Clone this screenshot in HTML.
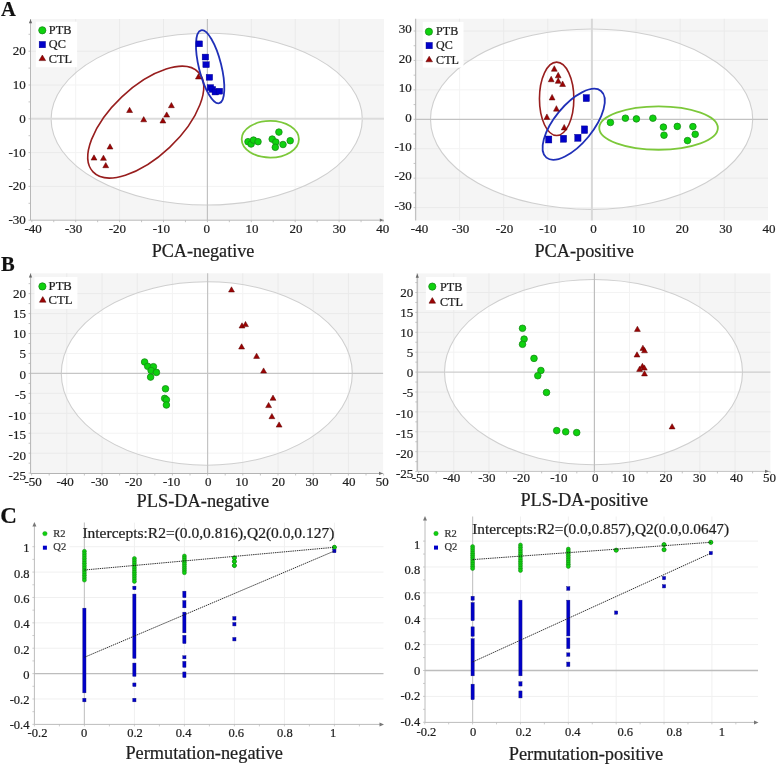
<!DOCTYPE html>
<html><head><meta charset="utf-8"><title>figure</title>
<style>html,body{margin:0;padding:0;background:#fff;}svg{display:block;will-change:transform;}</style>
</head><body>
<svg width="777" height="765" viewBox="0 0 777 765" font-family='"Liberation Serif", serif' fill="#1e1e1e">
<rect x="0" y="0" width="777" height="765" fill="#ffffff"/>
<rect x="30.5" y="19" width="353.5" height="201.2" fill="#f5f5f5"/>
<line x1="75.7" y1="19" x2="75.7" y2="220.2" stroke="#eaeaea" stroke-width="1"/>
<line x1="119.6" y1="19" x2="119.6" y2="220.2" stroke="#eaeaea" stroke-width="1"/>
<line x1="163.5" y1="19" x2="163.5" y2="220.2" stroke="#eaeaea" stroke-width="1"/>
<line x1="251.3" y1="19" x2="251.3" y2="220.2" stroke="#eaeaea" stroke-width="1"/>
<line x1="295.2" y1="19" x2="295.2" y2="220.2" stroke="#eaeaea" stroke-width="1"/>
<line x1="339.1" y1="19" x2="339.1" y2="220.2" stroke="#eaeaea" stroke-width="1"/>
<line x1="30.5" y1="186.4" x2="384" y2="186.4" stroke="#eaeaea" stroke-width="1"/>
<line x1="30.5" y1="152.6" x2="384" y2="152.6" stroke="#eaeaea" stroke-width="1"/>
<line x1="30.5" y1="85" x2="384" y2="85" stroke="#eaeaea" stroke-width="1"/>
<line x1="30.5" y1="51.2" x2="384" y2="51.2" stroke="#eaeaea" stroke-width="1"/>
<ellipse cx="206.7" cy="119.1" rx="155.6" ry="85.9" fill="#ffffff" stroke="none"/>
<clipPath id="cpal"><ellipse cx="206.7" cy="119.1" rx="155.6" ry="85.9"/></clipPath>
<g clip-path="url(#cpal)">
<line x1="75.7" y1="19" x2="75.7" y2="220.2" stroke="#f3f3f3" stroke-width="1"/>
<line x1="119.6" y1="19" x2="119.6" y2="220.2" stroke="#f3f3f3" stroke-width="1"/>
<line x1="163.5" y1="19" x2="163.5" y2="220.2" stroke="#f3f3f3" stroke-width="1"/>
<line x1="251.3" y1="19" x2="251.3" y2="220.2" stroke="#f3f3f3" stroke-width="1"/>
<line x1="295.2" y1="19" x2="295.2" y2="220.2" stroke="#f3f3f3" stroke-width="1"/>
<line x1="339.1" y1="19" x2="339.1" y2="220.2" stroke="#f3f3f3" stroke-width="1"/>
<line x1="30.5" y1="186.4" x2="384" y2="186.4" stroke="#f3f3f3" stroke-width="1"/>
<line x1="30.5" y1="152.6" x2="384" y2="152.6" stroke="#f3f3f3" stroke-width="1"/>
<line x1="30.5" y1="85" x2="384" y2="85" stroke="#f3f3f3" stroke-width="1"/>
<line x1="30.5" y1="51.2" x2="384" y2="51.2" stroke="#f3f3f3" stroke-width="1"/>
</g>
<ellipse cx="206.7" cy="119.1" rx="155.6" ry="85.9" fill="none" stroke="#cfcfcf" stroke-width="1.1"/>
<line x1="30.5" y1="118.8" x2="384" y2="118.8" stroke="#dcdcdc" stroke-width="2"/>
<line x1="207.4" y1="19" x2="207.4" y2="220.2" stroke="#c2c2c2" stroke-width="1.2"/>
<line x1="30.5" y1="19" x2="30.5" y2="220.2" stroke="#b8b8b8" stroke-width="1"/>
<line x1="30.5" y1="220.2" x2="384" y2="220.2" stroke="#b8b8b8" stroke-width="1"/>
<path d="M28.9 23.2L32.1 23.2L30.5 19.2Z" fill="#666"/>
<path d="M379.8 218.6L379.8 221.8L383.8 220.2Z" fill="#777"/>
<line x1="28.5" y1="220.2" x2="30.5" y2="220.2" stroke="#b8b8b8" stroke-width="0.8"/>
<line x1="28.5" y1="203.3" x2="30.5" y2="203.3" stroke="#b8b8b8" stroke-width="0.8"/>
<line x1="28.5" y1="186.4" x2="30.5" y2="186.4" stroke="#b8b8b8" stroke-width="0.8"/>
<line x1="28.5" y1="169.5" x2="30.5" y2="169.5" stroke="#b8b8b8" stroke-width="0.8"/>
<line x1="28.5" y1="152.6" x2="30.5" y2="152.6" stroke="#b8b8b8" stroke-width="0.8"/>
<line x1="28.5" y1="135.7" x2="30.5" y2="135.7" stroke="#b8b8b8" stroke-width="0.8"/>
<line x1="28.5" y1="118.8" x2="30.5" y2="118.8" stroke="#b8b8b8" stroke-width="0.8"/>
<line x1="28.5" y1="101.9" x2="30.5" y2="101.9" stroke="#b8b8b8" stroke-width="0.8"/>
<line x1="28.5" y1="85" x2="30.5" y2="85" stroke="#b8b8b8" stroke-width="0.8"/>
<line x1="28.5" y1="68.1" x2="30.5" y2="68.1" stroke="#b8b8b8" stroke-width="0.8"/>
<line x1="28.5" y1="51.2" x2="30.5" y2="51.2" stroke="#b8b8b8" stroke-width="0.8"/>
<line x1="28.5" y1="34.3" x2="30.5" y2="34.3" stroke="#b8b8b8" stroke-width="0.8"/>
<line x1="31.8" y1="220.2" x2="31.8" y2="222.2" stroke="#b8b8b8" stroke-width="0.8"/>
<line x1="53.75" y1="220.2" x2="53.75" y2="222.2" stroke="#b8b8b8" stroke-width="0.8"/>
<line x1="75.7" y1="220.2" x2="75.7" y2="222.2" stroke="#b8b8b8" stroke-width="0.8"/>
<line x1="97.65" y1="220.2" x2="97.65" y2="222.2" stroke="#b8b8b8" stroke-width="0.8"/>
<line x1="119.6" y1="220.2" x2="119.6" y2="222.2" stroke="#b8b8b8" stroke-width="0.8"/>
<line x1="141.55" y1="220.2" x2="141.55" y2="222.2" stroke="#b8b8b8" stroke-width="0.8"/>
<line x1="163.5" y1="220.2" x2="163.5" y2="222.2" stroke="#b8b8b8" stroke-width="0.8"/>
<line x1="185.45" y1="220.2" x2="185.45" y2="222.2" stroke="#b8b8b8" stroke-width="0.8"/>
<line x1="207.4" y1="220.2" x2="207.4" y2="222.2" stroke="#b8b8b8" stroke-width="0.8"/>
<line x1="229.35" y1="220.2" x2="229.35" y2="222.2" stroke="#b8b8b8" stroke-width="0.8"/>
<line x1="251.3" y1="220.2" x2="251.3" y2="222.2" stroke="#b8b8b8" stroke-width="0.8"/>
<line x1="273.25" y1="220.2" x2="273.25" y2="222.2" stroke="#b8b8b8" stroke-width="0.8"/>
<line x1="295.2" y1="220.2" x2="295.2" y2="222.2" stroke="#b8b8b8" stroke-width="0.8"/>
<line x1="317.15" y1="220.2" x2="317.15" y2="222.2" stroke="#b8b8b8" stroke-width="0.8"/>
<line x1="339.1" y1="220.2" x2="339.1" y2="222.2" stroke="#b8b8b8" stroke-width="0.8"/>
<line x1="361.05" y1="220.2" x2="361.05" y2="222.2" stroke="#b8b8b8" stroke-width="0.8"/>
<line x1="383" y1="220.2" x2="383" y2="222.2" stroke="#b8b8b8" stroke-width="0.8"/>
<rect x="35.9" y="21.7" width="41.2" height="45.5" fill="#ffffff"/>
<circle cx="42.3" cy="30.3" r="3.6" fill="#0ed20e" stroke="#168c16" stroke-width="0.8"/>
<text x="48.8" y="33.8" font-size="11.5" text-anchor="start" stroke="#1e1e1e" stroke-width="0.22" textLength="22.57" lengthAdjust="spacingAndGlyphs">PTB</text>
<rect x="39.15" y="41.4" width="6.4" height="6.4" fill="#0000c8" stroke="#00008a" stroke-width="0.4"/>
<text x="48.8" y="48.3" font-size="11.5" text-anchor="start" stroke="#1e1e1e" stroke-width="0.22" textLength="17.09" lengthAdjust="spacingAndGlyphs">QC</text>
<path d="M39.05 60.6L45.65 60.6L42.35 55Z" fill="#9c0404" stroke="#5a0000" stroke-width="0.5" stroke-linejoin="round"/>
<text x="48.8" y="63.2" font-size="11.5" text-anchor="start" stroke="#1e1e1e" stroke-width="0.22" textLength="23.24" lengthAdjust="spacingAndGlyphs">CTL</text>
<text x="25.8" y="55.1" font-size="13" text-anchor="end" stroke="#1e1e1e" stroke-width="0.22">20</text>
<text x="25.8" y="88.9" font-size="13" text-anchor="end" stroke="#1e1e1e" stroke-width="0.22">10</text>
<text x="25.8" y="122.7" font-size="13" text-anchor="end" stroke="#1e1e1e" stroke-width="0.22">0</text>
<text x="25.8" y="156.5" font-size="13" text-anchor="end" stroke="#1e1e1e" stroke-width="0.22">-10</text>
<text x="25.8" y="190.3" font-size="13" text-anchor="end" stroke="#1e1e1e" stroke-width="0.22">-20</text>
<text x="25.8" y="224.1" font-size="13" text-anchor="end" stroke="#1e1e1e" stroke-width="0.22">-30</text>
<text x="33.1" y="232.7" font-size="13" text-anchor="middle" stroke="#1e1e1e" stroke-width="0.22">-40</text>
<text x="73.7" y="232.7" font-size="13" text-anchor="middle" stroke="#1e1e1e" stroke-width="0.22">-30</text>
<text x="117.4" y="232.7" font-size="13" text-anchor="middle" stroke="#1e1e1e" stroke-width="0.22">-20</text>
<text x="161.3" y="232.7" font-size="13" text-anchor="middle" stroke="#1e1e1e" stroke-width="0.22">-10</text>
<text x="206.8" y="232.7" font-size="13" text-anchor="middle" stroke="#1e1e1e" stroke-width="0.22">0</text>
<text x="252.1" y="232.7" font-size="13" text-anchor="middle" stroke="#1e1e1e" stroke-width="0.22">10</text>
<text x="296" y="232.7" font-size="13" text-anchor="middle" stroke="#1e1e1e" stroke-width="0.22">20</text>
<text x="339.2" y="232.7" font-size="13" text-anchor="middle" stroke="#1e1e1e" stroke-width="0.22">30</text>
<text x="382.7" y="232.7" font-size="13" text-anchor="middle" stroke="#1e1e1e" stroke-width="0.22">40</text>
<text x="203" y="256.5" font-size="18" text-anchor="middle" stroke="#1e1e1e" stroke-width="0.22" textLength="102.7" lengthAdjust="spacingAndGlyphs">PCA-negative</text>
<ellipse cx="145.75" cy="122.1" rx="72.5" ry="34.8" transform="rotate(-43.35 145.75 122.1)" fill="none" stroke="#981e1e" stroke-width="1.6"/>
<ellipse cx="210.15" cy="66.75" rx="37.6" ry="11.2" transform="rotate(76 210.15 66.75)" fill="none" stroke="#2030b8" stroke-width="1.8"/>
<ellipse cx="270.3" cy="139.25" rx="28.6" ry="18.3" transform="rotate(0 270.3 139.25)" fill="none" stroke="#7cc83a" stroke-width="1.8"/>
<path d="M195.45 79L201.35 79L198.4 73.8Z" fill="#9c0404" stroke="#5a0000" stroke-width="0.5" stroke-linejoin="round"/>
<path d="M168.45 107.7L174.35 107.7L171.4 102.5Z" fill="#9c0404" stroke="#5a0000" stroke-width="0.5" stroke-linejoin="round"/>
<path d="M126.65 112.5L132.55 112.5L129.6 107.3Z" fill="#9c0404" stroke="#5a0000" stroke-width="0.5" stroke-linejoin="round"/>
<path d="M163.75 117.1L169.65 117.1L166.7 111.9Z" fill="#9c0404" stroke="#5a0000" stroke-width="0.5" stroke-linejoin="round"/>
<path d="M140.75 121.8L146.65 121.8L143.7 116.6Z" fill="#9c0404" stroke="#5a0000" stroke-width="0.5" stroke-linejoin="round"/>
<path d="M159.95 123L165.85 123L162.9 117.8Z" fill="#9c0404" stroke="#5a0000" stroke-width="0.5" stroke-linejoin="round"/>
<path d="M107.05 149L112.95 149L110 143.8Z" fill="#9c0404" stroke="#5a0000" stroke-width="0.5" stroke-linejoin="round"/>
<path d="M91.05 160.05L96.95 160.05L94 154.85Z" fill="#9c0404" stroke="#5a0000" stroke-width="0.5" stroke-linejoin="round"/>
<path d="M100.5 160.35L106.4 160.35L103.45 155.15Z" fill="#9c0404" stroke="#5a0000" stroke-width="0.5" stroke-linejoin="round"/>
<path d="M102.8 167.7L108.7 167.7L105.75 162.5Z" fill="#9c0404" stroke="#5a0000" stroke-width="0.5" stroke-linejoin="round"/>
<rect x="196" y="40.9" width="6.5" height="5.9" fill="#0000c8" stroke="#00008a" stroke-width="0.4"/>
<rect x="202.15" y="54.1" width="6.5" height="5.9" fill="#0000c8" stroke="#00008a" stroke-width="0.4"/>
<rect x="202.85" y="61.75" width="6.5" height="5.9" fill="#0000c8" stroke="#00008a" stroke-width="0.4"/>
<rect x="206.15" y="74.35" width="6.5" height="5.9" fill="#0000c8" stroke="#00008a" stroke-width="0.4"/>
<rect x="207.15" y="84.65" width="6.5" height="5.9" fill="#0000c8" stroke="#00008a" stroke-width="0.4"/>
<rect x="209.15" y="86.45" width="6.5" height="5.9" fill="#0000c8" stroke="#00008a" stroke-width="0.4"/>
<rect x="212.05" y="89.05" width="6.5" height="5.9" fill="#0000c8" stroke="#00008a" stroke-width="0.4"/>
<rect x="216.15" y="88.25" width="6.5" height="5.9" fill="#0000c8" stroke="#00008a" stroke-width="0.4"/>
<circle cx="248" cy="141.7" r="3.3" fill="#0ed20e" stroke="#168c16" stroke-width="0.8"/>
<circle cx="251.1" cy="144" r="3.3" fill="#0ed20e" stroke="#168c16" stroke-width="0.8"/>
<circle cx="253.5" cy="140.1" r="3.3" fill="#0ed20e" stroke="#168c16" stroke-width="0.8"/>
<circle cx="258" cy="141.7" r="3.3" fill="#0ed20e" stroke="#168c16" stroke-width="0.8"/>
<circle cx="278.9" cy="132.1" r="3.3" fill="#0ed20e" stroke="#168c16" stroke-width="0.8"/>
<circle cx="272.2" cy="139.1" r="3.3" fill="#0ed20e" stroke="#168c16" stroke-width="0.8"/>
<circle cx="275.8" cy="142.1" r="3.3" fill="#0ed20e" stroke="#168c16" stroke-width="0.8"/>
<circle cx="275.3" cy="147.3" r="3.3" fill="#0ed20e" stroke="#168c16" stroke-width="0.8"/>
<circle cx="283" cy="144.5" r="3.3" fill="#0ed20e" stroke="#168c16" stroke-width="0.8"/>
<circle cx="290.2" cy="140.7" r="3.3" fill="#0ed20e" stroke="#168c16" stroke-width="0.8"/>
<rect x="415.6" y="18.75" width="352.4" height="201.75" fill="#f5f5f5"/>
<line x1="459.6" y1="18.75" x2="459.6" y2="220.5" stroke="#eaeaea" stroke-width="1"/>
<line x1="503.7" y1="18.75" x2="503.7" y2="220.5" stroke="#eaeaea" stroke-width="1"/>
<line x1="547.8" y1="18.75" x2="547.8" y2="220.5" stroke="#eaeaea" stroke-width="1"/>
<line x1="636" y1="18.75" x2="636" y2="220.5" stroke="#eaeaea" stroke-width="1"/>
<line x1="680.1" y1="18.75" x2="680.1" y2="220.5" stroke="#eaeaea" stroke-width="1"/>
<line x1="724.2" y1="18.75" x2="724.2" y2="220.5" stroke="#eaeaea" stroke-width="1"/>
<line x1="415.6" y1="207.59" x2="768" y2="207.59" stroke="#eaeaea" stroke-width="1"/>
<line x1="415.6" y1="178.16" x2="768" y2="178.16" stroke="#eaeaea" stroke-width="1"/>
<line x1="415.6" y1="148.73" x2="768" y2="148.73" stroke="#eaeaea" stroke-width="1"/>
<line x1="415.6" y1="89.87" x2="768" y2="89.87" stroke="#eaeaea" stroke-width="1"/>
<line x1="415.6" y1="60.44" x2="768" y2="60.44" stroke="#eaeaea" stroke-width="1"/>
<line x1="415.6" y1="31.01" x2="768" y2="31.01" stroke="#eaeaea" stroke-width="1"/>
<ellipse cx="591.6" cy="119.2" rx="161.1" ry="90.2" fill="#ffffff" stroke="none"/>
<clipPath id="cpar"><ellipse cx="591.6" cy="119.2" rx="161.1" ry="90.2"/></clipPath>
<g clip-path="url(#cpar)">
<line x1="459.6" y1="18.75" x2="459.6" y2="220.5" stroke="#f3f3f3" stroke-width="1"/>
<line x1="503.7" y1="18.75" x2="503.7" y2="220.5" stroke="#f3f3f3" stroke-width="1"/>
<line x1="547.8" y1="18.75" x2="547.8" y2="220.5" stroke="#f3f3f3" stroke-width="1"/>
<line x1="636" y1="18.75" x2="636" y2="220.5" stroke="#f3f3f3" stroke-width="1"/>
<line x1="680.1" y1="18.75" x2="680.1" y2="220.5" stroke="#f3f3f3" stroke-width="1"/>
<line x1="724.2" y1="18.75" x2="724.2" y2="220.5" stroke="#f3f3f3" stroke-width="1"/>
<line x1="415.6" y1="207.59" x2="768" y2="207.59" stroke="#f3f3f3" stroke-width="1"/>
<line x1="415.6" y1="178.16" x2="768" y2="178.16" stroke="#f3f3f3" stroke-width="1"/>
<line x1="415.6" y1="148.73" x2="768" y2="148.73" stroke="#f3f3f3" stroke-width="1"/>
<line x1="415.6" y1="89.87" x2="768" y2="89.87" stroke="#f3f3f3" stroke-width="1"/>
<line x1="415.6" y1="60.44" x2="768" y2="60.44" stroke="#f3f3f3" stroke-width="1"/>
<line x1="415.6" y1="31.01" x2="768" y2="31.01" stroke="#f3f3f3" stroke-width="1"/>
</g>
<ellipse cx="591.6" cy="119.2" rx="161.1" ry="90.2" fill="none" stroke="#cfcfcf" stroke-width="1.1"/>
<line x1="415.6" y1="119.3" x2="768" y2="119.3" stroke="#c2c2c2" stroke-width="1.2"/>
<line x1="591.9" y1="18.75" x2="591.9" y2="220.5" stroke="#d8d8d8" stroke-width="2"/>
<line x1="415.6" y1="18.75" x2="415.6" y2="220.5" stroke="#c2c2c2" stroke-width="1.3"/>
<line x1="413.6" y1="207.59" x2="415.6" y2="207.59" stroke="#b8b8b8" stroke-width="0.8"/>
<line x1="413.6" y1="192.88" x2="415.6" y2="192.88" stroke="#b8b8b8" stroke-width="0.8"/>
<line x1="413.6" y1="178.16" x2="415.6" y2="178.16" stroke="#b8b8b8" stroke-width="0.8"/>
<line x1="413.6" y1="163.44" x2="415.6" y2="163.44" stroke="#b8b8b8" stroke-width="0.8"/>
<line x1="413.6" y1="148.73" x2="415.6" y2="148.73" stroke="#b8b8b8" stroke-width="0.8"/>
<line x1="413.6" y1="134.01" x2="415.6" y2="134.01" stroke="#b8b8b8" stroke-width="0.8"/>
<line x1="413.6" y1="119.3" x2="415.6" y2="119.3" stroke="#b8b8b8" stroke-width="0.8"/>
<line x1="413.6" y1="104.58" x2="415.6" y2="104.58" stroke="#b8b8b8" stroke-width="0.8"/>
<line x1="413.6" y1="89.87" x2="415.6" y2="89.87" stroke="#b8b8b8" stroke-width="0.8"/>
<line x1="413.6" y1="75.16" x2="415.6" y2="75.16" stroke="#b8b8b8" stroke-width="0.8"/>
<line x1="413.6" y1="60.44" x2="415.6" y2="60.44" stroke="#b8b8b8" stroke-width="0.8"/>
<line x1="413.6" y1="45.72" x2="415.6" y2="45.72" stroke="#b8b8b8" stroke-width="0.8"/>
<line x1="413.6" y1="31.01" x2="415.6" y2="31.01" stroke="#b8b8b8" stroke-width="0.8"/>
<rect x="422.8" y="21.9" width="40.7" height="45.7" fill="#ffffff"/>
<circle cx="428.9" cy="31.7" r="3.6" fill="#0ed20e" stroke="#168c16" stroke-width="0.8"/>
<text x="436.1" y="34.7" font-size="11.5" text-anchor="start" stroke="#1e1e1e" stroke-width="0.22" textLength="22.15" lengthAdjust="spacingAndGlyphs">PTB</text>
<rect x="426" y="42.4" width="6.4" height="6.4" fill="#0000c8" stroke="#00008a" stroke-width="0.4"/>
<text x="436.1" y="48.9" font-size="11.5" text-anchor="start" stroke="#1e1e1e" stroke-width="0.22" textLength="16.77" lengthAdjust="spacingAndGlyphs">QC</text>
<path d="M425.9 61.8L432.5 61.8L429.2 56.2Z" fill="#9c0404" stroke="#5a0000" stroke-width="0.5" stroke-linejoin="round"/>
<text x="436.1" y="64.4" font-size="11.5" text-anchor="start" stroke="#1e1e1e" stroke-width="0.22" textLength="22.81" lengthAdjust="spacingAndGlyphs">CTL</text>
<text x="411.8" y="33.31" font-size="13" text-anchor="end" stroke="#1e1e1e" stroke-width="0.22">30</text>
<text x="411.8" y="62.74" font-size="13" text-anchor="end" stroke="#1e1e1e" stroke-width="0.22">20</text>
<text x="411.8" y="92.17" font-size="13" text-anchor="end" stroke="#1e1e1e" stroke-width="0.22">10</text>
<text x="411.8" y="121.6" font-size="13" text-anchor="end" stroke="#1e1e1e" stroke-width="0.22">0</text>
<text x="411.8" y="151.03" font-size="13" text-anchor="end" stroke="#1e1e1e" stroke-width="0.22">-10</text>
<text x="411.8" y="180.46" font-size="13" text-anchor="end" stroke="#1e1e1e" stroke-width="0.22">-20</text>
<text x="411.8" y="209.89" font-size="13" text-anchor="end" stroke="#1e1e1e" stroke-width="0.22">-30</text>
<text x="419.5" y="232.5" font-size="13" text-anchor="middle" stroke="#1e1e1e" stroke-width="0.22">-40</text>
<text x="460.7" y="232.5" font-size="13" text-anchor="middle" stroke="#1e1e1e" stroke-width="0.22">-30</text>
<text x="504.5" y="232.5" font-size="13" text-anchor="middle" stroke="#1e1e1e" stroke-width="0.22">-20</text>
<text x="547.8" y="232.5" font-size="13" text-anchor="middle" stroke="#1e1e1e" stroke-width="0.22">-10</text>
<text x="593.4" y="232.5" font-size="13" text-anchor="middle" stroke="#1e1e1e" stroke-width="0.22">0</text>
<text x="638.4" y="232.5" font-size="13" text-anchor="middle" stroke="#1e1e1e" stroke-width="0.22">10</text>
<text x="682.3" y="232.5" font-size="13" text-anchor="middle" stroke="#1e1e1e" stroke-width="0.22">20</text>
<text x="725.8" y="232.5" font-size="13" text-anchor="middle" stroke="#1e1e1e" stroke-width="0.22">30</text>
<text x="769.1" y="232.5" font-size="13" text-anchor="middle" stroke="#1e1e1e" stroke-width="0.22">40</text>
<text x="584.2" y="256.9" font-size="18" text-anchor="middle" stroke="#1e1e1e" stroke-width="0.22" textLength="99.5" lengthAdjust="spacingAndGlyphs">PCA-positive</text>
<ellipse cx="556.65" cy="98.8" rx="17.2" ry="36.7" transform="rotate(0 556.65 98.8)" fill="none" stroke="#981e1e" stroke-width="1.6"/>
<ellipse cx="573.7" cy="124.3" rx="43.1" ry="19.3" transform="rotate(-50.7 573.7 124.3)" fill="none" stroke="#2030b8" stroke-width="1.8"/>
<ellipse cx="658.55" cy="128.05" rx="59.3" ry="21.7" transform="rotate(0 658.55 128.05)" fill="none" stroke="#7cc83a" stroke-width="1.8"/>
<path d="M551.4 71.25L557.2 71.25L554.3 65.75Z" fill="#9c0404" stroke="#5a0000" stroke-width="0.5" stroke-linejoin="round"/>
<path d="M555.3 77.85L561.1 77.85L558.2 72.35Z" fill="#9c0404" stroke="#5a0000" stroke-width="0.5" stroke-linejoin="round"/>
<path d="M548.3 81.75L554.1 81.75L551.2 76.25Z" fill="#9c0404" stroke="#5a0000" stroke-width="0.5" stroke-linejoin="round"/>
<path d="M555.3 83.35L561.1 83.35L558.2 77.85Z" fill="#9c0404" stroke="#5a0000" stroke-width="0.5" stroke-linejoin="round"/>
<path d="M559.7 86.45L565.5 86.45L562.6 80.95Z" fill="#9c0404" stroke="#5a0000" stroke-width="0.5" stroke-linejoin="round"/>
<path d="M549.2 99.95L555 99.95L552.1 94.45Z" fill="#9c0404" stroke="#5a0000" stroke-width="0.5" stroke-linejoin="round"/>
<path d="M553.5 111.15L559.3 111.15L556.4 105.65Z" fill="#9c0404" stroke="#5a0000" stroke-width="0.5" stroke-linejoin="round"/>
<path d="M544 119.45L549.8 119.45L546.9 113.95Z" fill="#9c0404" stroke="#5a0000" stroke-width="0.5" stroke-linejoin="round"/>
<path d="M561.3 129.95L567.1 129.95L564.2 124.45Z" fill="#9c0404" stroke="#5a0000" stroke-width="0.5" stroke-linejoin="round"/>
<rect x="583.15" y="94.6" width="6.3" height="7" fill="#0000c8" stroke="#00008a" stroke-width="0.4"/>
<rect x="581.35" y="125.9" width="6.3" height="7.6" fill="#0000c8" stroke="#00008a" stroke-width="0.4"/>
<rect x="574.75" y="134.3" width="6.3" height="7" fill="#0000c8" stroke="#00008a" stroke-width="0.4"/>
<rect x="560.35" y="135.25" width="6.3" height="7" fill="#0000c8" stroke="#00008a" stroke-width="0.4"/>
<rect x="545.55" y="136" width="6.3" height="7" fill="#0000c8" stroke="#00008a" stroke-width="0.4"/>
<circle cx="610.4" cy="122.5" r="3.3" fill="#0ed20e" stroke="#168c16" stroke-width="0.8"/>
<circle cx="625.4" cy="118.2" r="3.3" fill="#0ed20e" stroke="#168c16" stroke-width="0.8"/>
<circle cx="636.4" cy="118.9" r="3.3" fill="#0ed20e" stroke="#168c16" stroke-width="0.8"/>
<circle cx="652.9" cy="118.2" r="3.3" fill="#0ed20e" stroke="#168c16" stroke-width="0.8"/>
<circle cx="663.4" cy="127.1" r="3.3" fill="#0ed20e" stroke="#168c16" stroke-width="0.8"/>
<circle cx="664" cy="135.2" r="3.3" fill="#0ed20e" stroke="#168c16" stroke-width="0.8"/>
<circle cx="677.3" cy="126.4" r="3.3" fill="#0ed20e" stroke="#168c16" stroke-width="0.8"/>
<circle cx="692.9" cy="126.6" r="3.3" fill="#0ed20e" stroke="#168c16" stroke-width="0.8"/>
<circle cx="695.2" cy="134.3" r="3.3" fill="#0ed20e" stroke="#168c16" stroke-width="0.8"/>
<circle cx="687.5" cy="140.6" r="3.3" fill="#0ed20e" stroke="#168c16" stroke-width="0.8"/>
<rect x="30.6" y="273.3" width="352.5" height="200.2" fill="#f5f5f5"/>
<line x1="66.8" y1="273.3" x2="66.8" y2="473.5" stroke="#eaeaea" stroke-width="1"/>
<line x1="102" y1="273.3" x2="102" y2="473.5" stroke="#eaeaea" stroke-width="1"/>
<line x1="137.2" y1="273.3" x2="137.2" y2="473.5" stroke="#eaeaea" stroke-width="1"/>
<line x1="172.4" y1="273.3" x2="172.4" y2="473.5" stroke="#eaeaea" stroke-width="1"/>
<line x1="242.8" y1="273.3" x2="242.8" y2="473.5" stroke="#eaeaea" stroke-width="1"/>
<line x1="278" y1="273.3" x2="278" y2="473.5" stroke="#eaeaea" stroke-width="1"/>
<line x1="313.2" y1="273.3" x2="313.2" y2="473.5" stroke="#eaeaea" stroke-width="1"/>
<line x1="348.4" y1="273.3" x2="348.4" y2="473.5" stroke="#eaeaea" stroke-width="1"/>
<line x1="30.6" y1="453.2" x2="383.1" y2="453.2" stroke="#eaeaea" stroke-width="1"/>
<line x1="30.6" y1="433.25" x2="383.1" y2="433.25" stroke="#eaeaea" stroke-width="1"/>
<line x1="30.6" y1="413.3" x2="383.1" y2="413.3" stroke="#eaeaea" stroke-width="1"/>
<line x1="30.6" y1="393.35" x2="383.1" y2="393.35" stroke="#eaeaea" stroke-width="1"/>
<line x1="30.6" y1="353.45" x2="383.1" y2="353.45" stroke="#eaeaea" stroke-width="1"/>
<line x1="30.6" y1="333.5" x2="383.1" y2="333.5" stroke="#eaeaea" stroke-width="1"/>
<line x1="30.6" y1="313.55" x2="383.1" y2="313.55" stroke="#eaeaea" stroke-width="1"/>
<line x1="30.6" y1="293.6" x2="383.1" y2="293.6" stroke="#eaeaea" stroke-width="1"/>
<ellipse cx="206.8" cy="373.5" rx="145.5" ry="91.7" fill="#ffffff" stroke="none"/>
<clipPath id="cpbl"><ellipse cx="206.8" cy="373.5" rx="145.5" ry="91.7"/></clipPath>
<g clip-path="url(#cpbl)">
<line x1="66.8" y1="273.3" x2="66.8" y2="473.5" stroke="#f3f3f3" stroke-width="1"/>
<line x1="102" y1="273.3" x2="102" y2="473.5" stroke="#f3f3f3" stroke-width="1"/>
<line x1="137.2" y1="273.3" x2="137.2" y2="473.5" stroke="#f3f3f3" stroke-width="1"/>
<line x1="172.4" y1="273.3" x2="172.4" y2="473.5" stroke="#f3f3f3" stroke-width="1"/>
<line x1="242.8" y1="273.3" x2="242.8" y2="473.5" stroke="#f3f3f3" stroke-width="1"/>
<line x1="278" y1="273.3" x2="278" y2="473.5" stroke="#f3f3f3" stroke-width="1"/>
<line x1="313.2" y1="273.3" x2="313.2" y2="473.5" stroke="#f3f3f3" stroke-width="1"/>
<line x1="348.4" y1="273.3" x2="348.4" y2="473.5" stroke="#f3f3f3" stroke-width="1"/>
<line x1="30.6" y1="453.2" x2="383.1" y2="453.2" stroke="#f3f3f3" stroke-width="1"/>
<line x1="30.6" y1="433.25" x2="383.1" y2="433.25" stroke="#f3f3f3" stroke-width="1"/>
<line x1="30.6" y1="413.3" x2="383.1" y2="413.3" stroke="#f3f3f3" stroke-width="1"/>
<line x1="30.6" y1="393.35" x2="383.1" y2="393.35" stroke="#f3f3f3" stroke-width="1"/>
<line x1="30.6" y1="353.45" x2="383.1" y2="353.45" stroke="#f3f3f3" stroke-width="1"/>
<line x1="30.6" y1="333.5" x2="383.1" y2="333.5" stroke="#f3f3f3" stroke-width="1"/>
<line x1="30.6" y1="313.55" x2="383.1" y2="313.55" stroke="#f3f3f3" stroke-width="1"/>
<line x1="30.6" y1="293.6" x2="383.1" y2="293.6" stroke="#f3f3f3" stroke-width="1"/>
</g>
<ellipse cx="206.8" cy="373.5" rx="145.5" ry="91.7" fill="none" stroke="#cfcfcf" stroke-width="1.1"/>
<line x1="30.6" y1="373.4" x2="383.1" y2="373.4" stroke="#c6c6c6" stroke-width="1.3"/>
<line x1="207.6" y1="273.3" x2="207.6" y2="473.5" stroke="#c4c4c4" stroke-width="1.2"/>
<line x1="30.6" y1="273.3" x2="30.6" y2="473.5" stroke="#b4b4b4" stroke-width="1"/>
<line x1="30.6" y1="473.5" x2="383.1" y2="473.5" stroke="#b4b4b4" stroke-width="1"/>
<path d="M28.9 277.6L32.1 277.6L30.5 273.6Z" fill="#666"/>
<path d="M379 471.8L379 475L383 473.4Z" fill="#777"/>
<line x1="28.6" y1="473.15" x2="30.6" y2="473.15" stroke="#b8b8b8" stroke-width="0.8"/>
<line x1="28.6" y1="463.17" x2="30.6" y2="463.17" stroke="#b8b8b8" stroke-width="0.8"/>
<line x1="28.6" y1="453.2" x2="30.6" y2="453.2" stroke="#b8b8b8" stroke-width="0.8"/>
<line x1="28.6" y1="443.22" x2="30.6" y2="443.22" stroke="#b8b8b8" stroke-width="0.8"/>
<line x1="28.6" y1="433.25" x2="30.6" y2="433.25" stroke="#b8b8b8" stroke-width="0.8"/>
<line x1="28.6" y1="423.27" x2="30.6" y2="423.27" stroke="#b8b8b8" stroke-width="0.8"/>
<line x1="28.6" y1="413.3" x2="30.6" y2="413.3" stroke="#b8b8b8" stroke-width="0.8"/>
<line x1="28.6" y1="403.32" x2="30.6" y2="403.32" stroke="#b8b8b8" stroke-width="0.8"/>
<line x1="28.6" y1="393.35" x2="30.6" y2="393.35" stroke="#b8b8b8" stroke-width="0.8"/>
<line x1="28.6" y1="383.38" x2="30.6" y2="383.38" stroke="#b8b8b8" stroke-width="0.8"/>
<line x1="28.6" y1="373.4" x2="30.6" y2="373.4" stroke="#b8b8b8" stroke-width="0.8"/>
<line x1="28.6" y1="363.42" x2="30.6" y2="363.42" stroke="#b8b8b8" stroke-width="0.8"/>
<line x1="28.6" y1="353.45" x2="30.6" y2="353.45" stroke="#b8b8b8" stroke-width="0.8"/>
<line x1="28.6" y1="343.47" x2="30.6" y2="343.47" stroke="#b8b8b8" stroke-width="0.8"/>
<line x1="28.6" y1="333.5" x2="30.6" y2="333.5" stroke="#b8b8b8" stroke-width="0.8"/>
<line x1="28.6" y1="323.52" x2="30.6" y2="323.52" stroke="#b8b8b8" stroke-width="0.8"/>
<line x1="28.6" y1="313.55" x2="30.6" y2="313.55" stroke="#b8b8b8" stroke-width="0.8"/>
<line x1="28.6" y1="303.57" x2="30.6" y2="303.57" stroke="#b8b8b8" stroke-width="0.8"/>
<line x1="28.6" y1="293.6" x2="30.6" y2="293.6" stroke="#b8b8b8" stroke-width="0.8"/>
<line x1="28.6" y1="283.62" x2="30.6" y2="283.62" stroke="#b8b8b8" stroke-width="0.8"/>
<line x1="31.6" y1="473.5" x2="31.6" y2="475.5" stroke="#b8b8b8" stroke-width="0.8"/>
<line x1="49.2" y1="473.5" x2="49.2" y2="475.5" stroke="#b8b8b8" stroke-width="0.8"/>
<line x1="66.8" y1="473.5" x2="66.8" y2="475.5" stroke="#b8b8b8" stroke-width="0.8"/>
<line x1="84.4" y1="473.5" x2="84.4" y2="475.5" stroke="#b8b8b8" stroke-width="0.8"/>
<line x1="102" y1="473.5" x2="102" y2="475.5" stroke="#b8b8b8" stroke-width="0.8"/>
<line x1="119.6" y1="473.5" x2="119.6" y2="475.5" stroke="#b8b8b8" stroke-width="0.8"/>
<line x1="137.2" y1="473.5" x2="137.2" y2="475.5" stroke="#b8b8b8" stroke-width="0.8"/>
<line x1="154.8" y1="473.5" x2="154.8" y2="475.5" stroke="#b8b8b8" stroke-width="0.8"/>
<line x1="172.4" y1="473.5" x2="172.4" y2="475.5" stroke="#b8b8b8" stroke-width="0.8"/>
<line x1="190" y1="473.5" x2="190" y2="475.5" stroke="#b8b8b8" stroke-width="0.8"/>
<line x1="207.6" y1="473.5" x2="207.6" y2="475.5" stroke="#b8b8b8" stroke-width="0.8"/>
<line x1="225.2" y1="473.5" x2="225.2" y2="475.5" stroke="#b8b8b8" stroke-width="0.8"/>
<line x1="242.8" y1="473.5" x2="242.8" y2="475.5" stroke="#b8b8b8" stroke-width="0.8"/>
<line x1="260.4" y1="473.5" x2="260.4" y2="475.5" stroke="#b8b8b8" stroke-width="0.8"/>
<line x1="278" y1="473.5" x2="278" y2="475.5" stroke="#b8b8b8" stroke-width="0.8"/>
<line x1="295.6" y1="473.5" x2="295.6" y2="475.5" stroke="#b8b8b8" stroke-width="0.8"/>
<line x1="313.2" y1="473.5" x2="313.2" y2="475.5" stroke="#b8b8b8" stroke-width="0.8"/>
<line x1="330.8" y1="473.5" x2="330.8" y2="475.5" stroke="#b8b8b8" stroke-width="0.8"/>
<line x1="348.4" y1="473.5" x2="348.4" y2="475.5" stroke="#b8b8b8" stroke-width="0.8"/>
<line x1="366" y1="473.5" x2="366" y2="475.5" stroke="#b8b8b8" stroke-width="0.8"/>
<line x1="383.6" y1="473.5" x2="383.6" y2="475.5" stroke="#b8b8b8" stroke-width="0.8"/>
<rect x="34.5" y="277" width="42.9" height="31.9" fill="#ffffff"/>
<circle cx="42.4" cy="286.4" r="3.6" fill="#0ed20e" stroke="#168c16" stroke-width="0.8"/>
<text x="48.6" y="289.5" font-size="11.5" text-anchor="start" stroke="#1e1e1e" stroke-width="0.22" textLength="23.2" lengthAdjust="spacingAndGlyphs">PTB</text>
<path d="M39.45 302.2L46.05 302.2L42.75 296.6Z" fill="#9c0404" stroke="#5a0000" stroke-width="0.5" stroke-linejoin="round"/>
<text x="48.6" y="304.2" font-size="11.5" text-anchor="start" stroke="#1e1e1e" stroke-width="0.22" textLength="23.89" lengthAdjust="spacingAndGlyphs">CTL</text>
<text x="25.9" y="479.95" font-size="13" text-anchor="end" stroke="#1e1e1e" stroke-width="0.22">-25</text>
<text x="25.9" y="459.6" font-size="13" text-anchor="end" stroke="#1e1e1e" stroke-width="0.22">-20</text>
<text x="25.9" y="439.35" font-size="13" text-anchor="end" stroke="#1e1e1e" stroke-width="0.22">-15</text>
<text x="25.9" y="419.5" font-size="13" text-anchor="end" stroke="#1e1e1e" stroke-width="0.22">-10</text>
<text x="25.9" y="399.15" font-size="13" text-anchor="end" stroke="#1e1e1e" stroke-width="0.22">-5</text>
<text x="25.9" y="378.7" font-size="13" text-anchor="end" stroke="#1e1e1e" stroke-width="0.22">0</text>
<text x="25.9" y="357.95" font-size="13" text-anchor="end" stroke="#1e1e1e" stroke-width="0.22">5</text>
<text x="25.9" y="337.7" font-size="13" text-anchor="end" stroke="#1e1e1e" stroke-width="0.22">10</text>
<text x="25.9" y="318.15" font-size="13" text-anchor="end" stroke="#1e1e1e" stroke-width="0.22">15</text>
<text x="25.9" y="297.9" font-size="13" text-anchor="end" stroke="#1e1e1e" stroke-width="0.22">20</text>
<text x="33.1" y="486.3" font-size="13" text-anchor="middle" stroke="#1e1e1e" stroke-width="0.22">-50</text>
<text x="65.1" y="486.3" font-size="13" text-anchor="middle" stroke="#1e1e1e" stroke-width="0.22">-40</text>
<text x="99.6" y="486.3" font-size="13" text-anchor="middle" stroke="#1e1e1e" stroke-width="0.22">-30</text>
<text x="133.7" y="486.3" font-size="13" text-anchor="middle" stroke="#1e1e1e" stroke-width="0.22">-20</text>
<text x="171.7" y="486.3" font-size="13" text-anchor="middle" stroke="#1e1e1e" stroke-width="0.22">-10</text>
<text x="208.2" y="486.3" font-size="13" text-anchor="middle" stroke="#1e1e1e" stroke-width="0.22">0</text>
<text x="241.7" y="486.3" font-size="13" text-anchor="middle" stroke="#1e1e1e" stroke-width="0.22">10</text>
<text x="278.4" y="486.3" font-size="13" text-anchor="middle" stroke="#1e1e1e" stroke-width="0.22">20</text>
<text x="312.1" y="486.3" font-size="13" text-anchor="middle" stroke="#1e1e1e" stroke-width="0.22">30</text>
<text x="349" y="486.3" font-size="13" text-anchor="middle" stroke="#1e1e1e" stroke-width="0.22">40</text>
<text x="382.2" y="486.3" font-size="13" text-anchor="middle" stroke="#1e1e1e" stroke-width="0.22">50</text>
<text x="202.8" y="507.2" font-size="18" text-anchor="middle" stroke="#1e1e1e" stroke-width="0.22" textLength="132.6" lengthAdjust="spacingAndGlyphs">PLS-DA-negative</text>
<circle cx="144.6" cy="362" r="3.3" fill="#0ed20e" stroke="#168c16" stroke-width="0.8"/>
<circle cx="147.7" cy="366.3" r="3.3" fill="#0ed20e" stroke="#168c16" stroke-width="0.8"/>
<circle cx="153.4" cy="366.7" r="3.3" fill="#0ed20e" stroke="#168c16" stroke-width="0.8"/>
<circle cx="151.1" cy="370.5" r="3.3" fill="#0ed20e" stroke="#168c16" stroke-width="0.8"/>
<circle cx="156.4" cy="372.4" r="3.3" fill="#0ed20e" stroke="#168c16" stroke-width="0.8"/>
<circle cx="150.6" cy="377.1" r="3.3" fill="#0ed20e" stroke="#168c16" stroke-width="0.8"/>
<circle cx="165.5" cy="388.8" r="3.3" fill="#0ed20e" stroke="#168c16" stroke-width="0.8"/>
<circle cx="164.7" cy="398.4" r="3.3" fill="#0ed20e" stroke="#168c16" stroke-width="0.8"/>
<circle cx="166.4" cy="399.8" r="3.3" fill="#0ed20e" stroke="#168c16" stroke-width="0.8"/>
<circle cx="166.4" cy="405" r="3.3" fill="#0ed20e" stroke="#168c16" stroke-width="0.8"/>
<path d="M228.55 292L234.45 292L231.5 286.8Z" fill="#9c0404" stroke="#5a0000" stroke-width="0.5" stroke-linejoin="round"/>
<path d="M239.05 328L244.95 328L242 322.8Z" fill="#9c0404" stroke="#5a0000" stroke-width="0.5" stroke-linejoin="round"/>
<path d="M242.55 326.6L248.45 326.6L245.5 321.4Z" fill="#9c0404" stroke="#5a0000" stroke-width="0.5" stroke-linejoin="round"/>
<path d="M238.65 349L244.55 349L241.6 343.8Z" fill="#9c0404" stroke="#5a0000" stroke-width="0.5" stroke-linejoin="round"/>
<path d="M253.65 358.4L259.55 358.4L256.6 353.2Z" fill="#9c0404" stroke="#5a0000" stroke-width="0.5" stroke-linejoin="round"/>
<path d="M260.65 373.1L266.55 373.1L263.6 367.9Z" fill="#9c0404" stroke="#5a0000" stroke-width="0.5" stroke-linejoin="round"/>
<path d="M270.05 400.3L275.95 400.3L273 395.1Z" fill="#9c0404" stroke="#5a0000" stroke-width="0.5" stroke-linejoin="round"/>
<path d="M265.65 407.6L271.55 407.6L268.6 402.4Z" fill="#9c0404" stroke="#5a0000" stroke-width="0.5" stroke-linejoin="round"/>
<path d="M268.95 418.7L274.85 418.7L271.9 413.5Z" fill="#9c0404" stroke="#5a0000" stroke-width="0.5" stroke-linejoin="round"/>
<path d="M276.15 427.1L282.05 427.1L279.1 421.9Z" fill="#9c0404" stroke="#5a0000" stroke-width="0.5" stroke-linejoin="round"/>
<rect x="417.3" y="273.4" width="353.1" height="198" fill="#f5f5f5"/>
<line x1="453.8" y1="273.4" x2="453.8" y2="471.4" stroke="#eaeaea" stroke-width="1"/>
<line x1="488.95" y1="273.4" x2="488.95" y2="471.4" stroke="#eaeaea" stroke-width="1"/>
<line x1="524.1" y1="273.4" x2="524.1" y2="471.4" stroke="#eaeaea" stroke-width="1"/>
<line x1="559.25" y1="273.4" x2="559.25" y2="471.4" stroke="#eaeaea" stroke-width="1"/>
<line x1="629.55" y1="273.4" x2="629.55" y2="471.4" stroke="#eaeaea" stroke-width="1"/>
<line x1="664.7" y1="273.4" x2="664.7" y2="471.4" stroke="#eaeaea" stroke-width="1"/>
<line x1="699.85" y1="273.4" x2="699.85" y2="471.4" stroke="#eaeaea" stroke-width="1"/>
<line x1="735" y1="273.4" x2="735" y2="471.4" stroke="#eaeaea" stroke-width="1"/>
<line x1="417.3" y1="451.7" x2="770.4" y2="451.7" stroke="#eaeaea" stroke-width="1"/>
<line x1="417.3" y1="431.8" x2="770.4" y2="431.8" stroke="#eaeaea" stroke-width="1"/>
<line x1="417.3" y1="411.9" x2="770.4" y2="411.9" stroke="#eaeaea" stroke-width="1"/>
<line x1="417.3" y1="392" x2="770.4" y2="392" stroke="#eaeaea" stroke-width="1"/>
<line x1="417.3" y1="352.2" x2="770.4" y2="352.2" stroke="#eaeaea" stroke-width="1"/>
<line x1="417.3" y1="332.3" x2="770.4" y2="332.3" stroke="#eaeaea" stroke-width="1"/>
<line x1="417.3" y1="312.4" x2="770.4" y2="312.4" stroke="#eaeaea" stroke-width="1"/>
<line x1="417.3" y1="292.5" x2="770.4" y2="292.5" stroke="#eaeaea" stroke-width="1"/>
<ellipse cx="593.5" cy="372.1" rx="149" ry="92.6" fill="#ffffff" stroke="none"/>
<clipPath id="cpbr"><ellipse cx="593.5" cy="372.1" rx="149" ry="92.6"/></clipPath>
<g clip-path="url(#cpbr)">
<line x1="453.8" y1="273.4" x2="453.8" y2="471.4" stroke="#f3f3f3" stroke-width="1"/>
<line x1="488.95" y1="273.4" x2="488.95" y2="471.4" stroke="#f3f3f3" stroke-width="1"/>
<line x1="524.1" y1="273.4" x2="524.1" y2="471.4" stroke="#f3f3f3" stroke-width="1"/>
<line x1="559.25" y1="273.4" x2="559.25" y2="471.4" stroke="#f3f3f3" stroke-width="1"/>
<line x1="629.55" y1="273.4" x2="629.55" y2="471.4" stroke="#f3f3f3" stroke-width="1"/>
<line x1="664.7" y1="273.4" x2="664.7" y2="471.4" stroke="#f3f3f3" stroke-width="1"/>
<line x1="699.85" y1="273.4" x2="699.85" y2="471.4" stroke="#f3f3f3" stroke-width="1"/>
<line x1="735" y1="273.4" x2="735" y2="471.4" stroke="#f3f3f3" stroke-width="1"/>
<line x1="417.3" y1="451.7" x2="770.4" y2="451.7" stroke="#f3f3f3" stroke-width="1"/>
<line x1="417.3" y1="431.8" x2="770.4" y2="431.8" stroke="#f3f3f3" stroke-width="1"/>
<line x1="417.3" y1="411.9" x2="770.4" y2="411.9" stroke="#f3f3f3" stroke-width="1"/>
<line x1="417.3" y1="392" x2="770.4" y2="392" stroke="#f3f3f3" stroke-width="1"/>
<line x1="417.3" y1="352.2" x2="770.4" y2="352.2" stroke="#f3f3f3" stroke-width="1"/>
<line x1="417.3" y1="332.3" x2="770.4" y2="332.3" stroke="#f3f3f3" stroke-width="1"/>
<line x1="417.3" y1="312.4" x2="770.4" y2="312.4" stroke="#f3f3f3" stroke-width="1"/>
<line x1="417.3" y1="292.5" x2="770.4" y2="292.5" stroke="#f3f3f3" stroke-width="1"/>
</g>
<ellipse cx="593.5" cy="372.1" rx="149" ry="92.6" fill="none" stroke="#cfcfcf" stroke-width="1.1"/>
<line x1="417.3" y1="372.1" x2="770.4" y2="372.1" stroke="#cdcdcd" stroke-width="1.3"/>
<line x1="594.4" y1="273.4" x2="594.4" y2="471.4" stroke="#bebebe" stroke-width="1.2"/>
<line x1="417.3" y1="273.4" x2="417.3" y2="471.4" stroke="#c2c2c2" stroke-width="1.6"/>
<line x1="417.3" y1="471.4" x2="770.4" y2="471.4" stroke="#c2c2c2" stroke-width="1"/>
<path d="M415.7 277.8L418.9 277.8L417.3 273.8Z" fill="#666"/>
<path d="M765 469.7L765 472.9L769 471.3Z" fill="#777"/>
<line x1="415.3" y1="471.6" x2="417.3" y2="471.6" stroke="#b8b8b8" stroke-width="0.8"/>
<line x1="415.3" y1="461.65" x2="417.3" y2="461.65" stroke="#b8b8b8" stroke-width="0.8"/>
<line x1="415.3" y1="451.7" x2="417.3" y2="451.7" stroke="#b8b8b8" stroke-width="0.8"/>
<line x1="415.3" y1="441.75" x2="417.3" y2="441.75" stroke="#b8b8b8" stroke-width="0.8"/>
<line x1="415.3" y1="431.8" x2="417.3" y2="431.8" stroke="#b8b8b8" stroke-width="0.8"/>
<line x1="415.3" y1="421.85" x2="417.3" y2="421.85" stroke="#b8b8b8" stroke-width="0.8"/>
<line x1="415.3" y1="411.9" x2="417.3" y2="411.9" stroke="#b8b8b8" stroke-width="0.8"/>
<line x1="415.3" y1="401.95" x2="417.3" y2="401.95" stroke="#b8b8b8" stroke-width="0.8"/>
<line x1="415.3" y1="392" x2="417.3" y2="392" stroke="#b8b8b8" stroke-width="0.8"/>
<line x1="415.3" y1="382.05" x2="417.3" y2="382.05" stroke="#b8b8b8" stroke-width="0.8"/>
<line x1="415.3" y1="372.1" x2="417.3" y2="372.1" stroke="#b8b8b8" stroke-width="0.8"/>
<line x1="415.3" y1="362.15" x2="417.3" y2="362.15" stroke="#b8b8b8" stroke-width="0.8"/>
<line x1="415.3" y1="352.2" x2="417.3" y2="352.2" stroke="#b8b8b8" stroke-width="0.8"/>
<line x1="415.3" y1="342.25" x2="417.3" y2="342.25" stroke="#b8b8b8" stroke-width="0.8"/>
<line x1="415.3" y1="332.3" x2="417.3" y2="332.3" stroke="#b8b8b8" stroke-width="0.8"/>
<line x1="415.3" y1="322.35" x2="417.3" y2="322.35" stroke="#b8b8b8" stroke-width="0.8"/>
<line x1="415.3" y1="312.4" x2="417.3" y2="312.4" stroke="#b8b8b8" stroke-width="0.8"/>
<line x1="415.3" y1="302.45" x2="417.3" y2="302.45" stroke="#b8b8b8" stroke-width="0.8"/>
<line x1="415.3" y1="292.5" x2="417.3" y2="292.5" stroke="#b8b8b8" stroke-width="0.8"/>
<line x1="415.3" y1="282.55" x2="417.3" y2="282.55" stroke="#b8b8b8" stroke-width="0.8"/>
<line x1="418.65" y1="471.4" x2="418.65" y2="473.4" stroke="#b8b8b8" stroke-width="0.8"/>
<line x1="436.22" y1="471.4" x2="436.22" y2="473.4" stroke="#b8b8b8" stroke-width="0.8"/>
<line x1="453.8" y1="471.4" x2="453.8" y2="473.4" stroke="#b8b8b8" stroke-width="0.8"/>
<line x1="471.38" y1="471.4" x2="471.38" y2="473.4" stroke="#b8b8b8" stroke-width="0.8"/>
<line x1="488.95" y1="471.4" x2="488.95" y2="473.4" stroke="#b8b8b8" stroke-width="0.8"/>
<line x1="506.52" y1="471.4" x2="506.52" y2="473.4" stroke="#b8b8b8" stroke-width="0.8"/>
<line x1="524.1" y1="471.4" x2="524.1" y2="473.4" stroke="#b8b8b8" stroke-width="0.8"/>
<line x1="541.67" y1="471.4" x2="541.67" y2="473.4" stroke="#b8b8b8" stroke-width="0.8"/>
<line x1="559.25" y1="471.4" x2="559.25" y2="473.4" stroke="#b8b8b8" stroke-width="0.8"/>
<line x1="576.82" y1="471.4" x2="576.82" y2="473.4" stroke="#b8b8b8" stroke-width="0.8"/>
<line x1="594.4" y1="471.4" x2="594.4" y2="473.4" stroke="#b8b8b8" stroke-width="0.8"/>
<line x1="611.98" y1="471.4" x2="611.98" y2="473.4" stroke="#b8b8b8" stroke-width="0.8"/>
<line x1="629.55" y1="471.4" x2="629.55" y2="473.4" stroke="#b8b8b8" stroke-width="0.8"/>
<line x1="647.12" y1="471.4" x2="647.12" y2="473.4" stroke="#b8b8b8" stroke-width="0.8"/>
<line x1="664.7" y1="471.4" x2="664.7" y2="473.4" stroke="#b8b8b8" stroke-width="0.8"/>
<line x1="682.27" y1="471.4" x2="682.27" y2="473.4" stroke="#b8b8b8" stroke-width="0.8"/>
<line x1="699.85" y1="471.4" x2="699.85" y2="473.4" stroke="#b8b8b8" stroke-width="0.8"/>
<line x1="717.42" y1="471.4" x2="717.42" y2="473.4" stroke="#b8b8b8" stroke-width="0.8"/>
<line x1="735" y1="471.4" x2="735" y2="473.4" stroke="#b8b8b8" stroke-width="0.8"/>
<line x1="752.58" y1="471.4" x2="752.58" y2="473.4" stroke="#b8b8b8" stroke-width="0.8"/>
<line x1="770.15" y1="471.4" x2="770.15" y2="473.4" stroke="#b8b8b8" stroke-width="0.8"/>
<rect x="425.9" y="277" width="40.7" height="33" fill="#ffffff"/>
<circle cx="432.3" cy="286.6" r="3.6" fill="#0ed20e" stroke="#168c16" stroke-width="0.8"/>
<text x="440" y="291.1" font-size="11.5" text-anchor="start" stroke="#1e1e1e" stroke-width="0.22" textLength="22.36" lengthAdjust="spacingAndGlyphs">PTB</text>
<path d="M429 303.2L435.6 303.2L432.3 297.6Z" fill="#9c0404" stroke="#5a0000" stroke-width="0.5" stroke-linejoin="round"/>
<text x="440" y="305.8" font-size="11.5" text-anchor="start" stroke="#1e1e1e" stroke-width="0.22" textLength="23.02" lengthAdjust="spacingAndGlyphs">CTL</text>
<text x="413.3" y="478.4" font-size="13" text-anchor="end" stroke="#1e1e1e" stroke-width="0.22">-25</text>
<text x="413.3" y="458.2" font-size="13" text-anchor="end" stroke="#1e1e1e" stroke-width="0.22">-20</text>
<text x="413.3" y="438" font-size="13" text-anchor="end" stroke="#1e1e1e" stroke-width="0.22">-15</text>
<text x="413.3" y="417.8" font-size="13" text-anchor="end" stroke="#1e1e1e" stroke-width="0.22">-10</text>
<text x="413.3" y="397" font-size="13" text-anchor="end" stroke="#1e1e1e" stroke-width="0.22">-5</text>
<text x="413.3" y="376.9" font-size="13" text-anchor="end" stroke="#1e1e1e" stroke-width="0.22">0</text>
<text x="413.3" y="357.1" font-size="13" text-anchor="end" stroke="#1e1e1e" stroke-width="0.22">5</text>
<text x="413.3" y="336.9" font-size="13" text-anchor="end" stroke="#1e1e1e" stroke-width="0.22">10</text>
<text x="413.3" y="316.8" font-size="13" text-anchor="end" stroke="#1e1e1e" stroke-width="0.22">15</text>
<text x="413.3" y="296.6" font-size="13" text-anchor="end" stroke="#1e1e1e" stroke-width="0.22">20</text>
<text x="420.35" y="482.4" font-size="13" text-anchor="middle" stroke="#1e1e1e" stroke-width="0.22">-50</text>
<text x="451.7" y="482.4" font-size="13" text-anchor="middle" stroke="#1e1e1e" stroke-width="0.22">-40</text>
<text x="486.8" y="482.4" font-size="13" text-anchor="middle" stroke="#1e1e1e" stroke-width="0.22">-30</text>
<text x="521.3" y="482.4" font-size="13" text-anchor="middle" stroke="#1e1e1e" stroke-width="0.22">-20</text>
<text x="558.95" y="482.4" font-size="13" text-anchor="middle" stroke="#1e1e1e" stroke-width="0.22">-10</text>
<text x="595.3" y="482.4" font-size="13" text-anchor="middle" stroke="#1e1e1e" stroke-width="0.22">0</text>
<text x="628.25" y="482.4" font-size="13" text-anchor="middle" stroke="#1e1e1e" stroke-width="0.22">10</text>
<text x="665.9" y="482.4" font-size="13" text-anchor="middle" stroke="#1e1e1e" stroke-width="0.22">20</text>
<text x="699.55" y="482.4" font-size="13" text-anchor="middle" stroke="#1e1e1e" stroke-width="0.22">30</text>
<text x="736.4" y="482.4" font-size="13" text-anchor="middle" stroke="#1e1e1e" stroke-width="0.22">40</text>
<text x="769.55" y="482.4" font-size="13" text-anchor="middle" stroke="#1e1e1e" stroke-width="0.22">50</text>
<text x="584.3" y="505.6" font-size="18" text-anchor="middle" stroke="#1e1e1e" stroke-width="0.22" textLength="127.8" lengthAdjust="spacingAndGlyphs">PLS-DA-positive</text>
<circle cx="522.5" cy="328.3" r="3.3" fill="#0ed20e" stroke="#168c16" stroke-width="0.8"/>
<circle cx="524.1" cy="339.1" r="3.3" fill="#0ed20e" stroke="#168c16" stroke-width="0.8"/>
<circle cx="522.5" cy="344.3" r="3.3" fill="#0ed20e" stroke="#168c16" stroke-width="0.8"/>
<circle cx="534" cy="358.4" r="3.3" fill="#0ed20e" stroke="#168c16" stroke-width="0.8"/>
<circle cx="540.9" cy="370.5" r="3.3" fill="#0ed20e" stroke="#168c16" stroke-width="0.8"/>
<circle cx="537.8" cy="375.7" r="3.3" fill="#0ed20e" stroke="#168c16" stroke-width="0.8"/>
<circle cx="546.5" cy="392.5" r="3.3" fill="#0ed20e" stroke="#168c16" stroke-width="0.8"/>
<circle cx="556.7" cy="430.6" r="3.3" fill="#0ed20e" stroke="#168c16" stroke-width="0.8"/>
<circle cx="565.7" cy="431.8" r="3.3" fill="#0ed20e" stroke="#168c16" stroke-width="0.8"/>
<circle cx="576.7" cy="432.6" r="3.3" fill="#0ed20e" stroke="#168c16" stroke-width="0.8"/>
<path d="M634.45 331.4L640.35 331.4L637.4 326.2Z" fill="#9c0404" stroke="#5a0000" stroke-width="0.5" stroke-linejoin="round"/>
<path d="M639.95 350.4L645.85 350.4L642.9 345.2Z" fill="#9c0404" stroke="#5a0000" stroke-width="0.5" stroke-linejoin="round"/>
<path d="M641.55 352.8L647.45 352.8L644.5 347.6Z" fill="#9c0404" stroke="#5a0000" stroke-width="0.5" stroke-linejoin="round"/>
<path d="M634.05 357L639.95 357L637 351.8Z" fill="#9c0404" stroke="#5a0000" stroke-width="0.5" stroke-linejoin="round"/>
<path d="M639.45 368.5L645.35 368.5L642.4 363.3Z" fill="#9c0404" stroke="#5a0000" stroke-width="0.5" stroke-linejoin="round"/>
<path d="M641.35 370.1L647.25 370.1L644.3 364.9Z" fill="#9c0404" stroke="#5a0000" stroke-width="0.5" stroke-linejoin="round"/>
<path d="M636.65 371.4L642.55 371.4L639.6 366.2Z" fill="#9c0404" stroke="#5a0000" stroke-width="0.5" stroke-linejoin="round"/>
<path d="M641.55 375.9L647.45 375.9L644.5 370.7Z" fill="#9c0404" stroke="#5a0000" stroke-width="0.5" stroke-linejoin="round"/>
<path d="M669.15 428.9L675.05 428.9L672.1 423.7Z" fill="#9c0404" stroke="#5a0000" stroke-width="0.5" stroke-linejoin="round"/>
<line x1="34.4" y1="698.98" x2="383.5" y2="698.98" stroke="#f0f0f0" stroke-width="1"/>
<line x1="34.4" y1="648.22" x2="383.5" y2="648.22" stroke="#f0f0f0" stroke-width="1"/>
<line x1="34.4" y1="622.84" x2="383.5" y2="622.84" stroke="#f0f0f0" stroke-width="1"/>
<line x1="34.4" y1="597.46" x2="383.5" y2="597.46" stroke="#f0f0f0" stroke-width="1"/>
<line x1="34.4" y1="572.08" x2="383.5" y2="572.08" stroke="#f0f0f0" stroke-width="1"/>
<line x1="34.4" y1="546.7" x2="383.5" y2="546.7" stroke="#f0f0f0" stroke-width="1"/>
<line x1="134.4" y1="522.6" x2="134.4" y2="724.4" stroke="#f0f0f0" stroke-width="1"/>
<line x1="184.4" y1="522.6" x2="184.4" y2="724.4" stroke="#f0f0f0" stroke-width="1"/>
<line x1="234.4" y1="522.6" x2="234.4" y2="724.4" stroke="#f0f0f0" stroke-width="1"/>
<line x1="284.4" y1="522.6" x2="284.4" y2="724.4" stroke="#f0f0f0" stroke-width="1"/>
<line x1="334.4" y1="522.6" x2="334.4" y2="724.4" stroke="#f0f0f0" stroke-width="1"/>
<line x1="84.4" y1="522.6" x2="84.4" y2="724.4" stroke="#c8c8c8" stroke-width="1.2"/>
<line x1="34.4" y1="673.6" x2="383.5" y2="673.6" stroke="#bdbdbd" stroke-width="1.3"/>
<rect x="35.4" y="521.6" width="34" height="27" fill="#ffffff"/>
<line x1="34.4" y1="524.6" x2="34.4" y2="724.4" stroke="#bcbcbc" stroke-width="1"/>
<line x1="34.4" y1="724.4" x2="381.5" y2="724.4" stroke="#bcbcbc" stroke-width="1"/>
<path d="M32.4 526.6L36.4 526.6L34.4 522.1Z" fill="#777"/>
<path d="M379.5 722.4L379.5 726.4L384 724.4Z" fill="#777"/>
<line x1="32.4" y1="724.36" x2="34.4" y2="724.36" stroke="#b8b8b8" stroke-width="0.7"/>
<line x1="32.4" y1="711.67" x2="34.4" y2="711.67" stroke="#b8b8b8" stroke-width="0.7"/>
<line x1="32.4" y1="698.98" x2="34.4" y2="698.98" stroke="#b8b8b8" stroke-width="0.7"/>
<line x1="32.4" y1="686.29" x2="34.4" y2="686.29" stroke="#b8b8b8" stroke-width="0.7"/>
<line x1="32.4" y1="673.6" x2="34.4" y2="673.6" stroke="#b8b8b8" stroke-width="0.7"/>
<line x1="32.4" y1="660.91" x2="34.4" y2="660.91" stroke="#b8b8b8" stroke-width="0.7"/>
<line x1="32.4" y1="648.22" x2="34.4" y2="648.22" stroke="#b8b8b8" stroke-width="0.7"/>
<line x1="32.4" y1="635.53" x2="34.4" y2="635.53" stroke="#b8b8b8" stroke-width="0.7"/>
<line x1="32.4" y1="622.84" x2="34.4" y2="622.84" stroke="#b8b8b8" stroke-width="0.7"/>
<line x1="32.4" y1="610.15" x2="34.4" y2="610.15" stroke="#b8b8b8" stroke-width="0.7"/>
<line x1="32.4" y1="597.46" x2="34.4" y2="597.46" stroke="#b8b8b8" stroke-width="0.7"/>
<line x1="32.4" y1="584.77" x2="34.4" y2="584.77" stroke="#b8b8b8" stroke-width="0.7"/>
<line x1="32.4" y1="572.08" x2="34.4" y2="572.08" stroke="#b8b8b8" stroke-width="0.7"/>
<line x1="32.4" y1="559.39" x2="34.4" y2="559.39" stroke="#b8b8b8" stroke-width="0.7"/>
<line x1="32.4" y1="546.7" x2="34.4" y2="546.7" stroke="#b8b8b8" stroke-width="0.7"/>
<line x1="34.4" y1="724.4" x2="34.4" y2="726.4" stroke="#b8b8b8" stroke-width="0.7"/>
<line x1="59.4" y1="724.4" x2="59.4" y2="726.4" stroke="#b8b8b8" stroke-width="0.7"/>
<line x1="84.4" y1="724.4" x2="84.4" y2="726.4" stroke="#b8b8b8" stroke-width="0.7"/>
<line x1="109.4" y1="724.4" x2="109.4" y2="726.4" stroke="#b8b8b8" stroke-width="0.7"/>
<line x1="134.4" y1="724.4" x2="134.4" y2="726.4" stroke="#b8b8b8" stroke-width="0.7"/>
<line x1="159.4" y1="724.4" x2="159.4" y2="726.4" stroke="#b8b8b8" stroke-width="0.7"/>
<line x1="184.4" y1="724.4" x2="184.4" y2="726.4" stroke="#b8b8b8" stroke-width="0.7"/>
<line x1="209.4" y1="724.4" x2="209.4" y2="726.4" stroke="#b8b8b8" stroke-width="0.7"/>
<line x1="234.4" y1="724.4" x2="234.4" y2="726.4" stroke="#b8b8b8" stroke-width="0.7"/>
<line x1="259.4" y1="724.4" x2="259.4" y2="726.4" stroke="#b8b8b8" stroke-width="0.7"/>
<line x1="284.4" y1="724.4" x2="284.4" y2="726.4" stroke="#b8b8b8" stroke-width="0.7"/>
<line x1="309.4" y1="724.4" x2="309.4" y2="726.4" stroke="#b8b8b8" stroke-width="0.7"/>
<line x1="334.4" y1="724.4" x2="334.4" y2="726.4" stroke="#b8b8b8" stroke-width="0.7"/>
<line x1="359.4" y1="724.4" x2="359.4" y2="726.4" stroke="#b8b8b8" stroke-width="0.7"/>
<circle cx="44.9" cy="533.6" r="2.2" fill="#0ed20e" stroke="#168c16" stroke-width="0.4"/>
<rect x="42.9" y="545.7" width="4" height="4" fill="#0000c8"/>
<text x="53.3" y="536.9" font-size="10.5" text-anchor="start" stroke="#333" stroke-width="0.22" fill="#333">R2</text>
<text x="53.3" y="550.2" font-size="10.5" text-anchor="start" stroke="#333" stroke-width="0.22" fill="#333">Q2</text>
<circle cx="84.4" cy="551.3" r="2.0" fill="#0ed20e" stroke="#137a13" stroke-width="0.5"/>
<circle cx="84.4" cy="553.7" r="2.0" fill="#0ed20e" stroke="#137a13" stroke-width="0.5"/>
<circle cx="84.4" cy="556.1" r="2.0" fill="#0ed20e" stroke="#137a13" stroke-width="0.5"/>
<circle cx="84.4" cy="558.5" r="2.0" fill="#0ed20e" stroke="#137a13" stroke-width="0.5"/>
<circle cx="84.4" cy="560.9" r="2.0" fill="#0ed20e" stroke="#137a13" stroke-width="0.5"/>
<circle cx="84.4" cy="563.3" r="2.0" fill="#0ed20e" stroke="#137a13" stroke-width="0.5"/>
<circle cx="84.4" cy="565.7" r="2.0" fill="#0ed20e" stroke="#137a13" stroke-width="0.5"/>
<circle cx="84.4" cy="568.1" r="2.0" fill="#0ed20e" stroke="#137a13" stroke-width="0.5"/>
<circle cx="84.4" cy="570.5" r="2.0" fill="#0ed20e" stroke="#137a13" stroke-width="0.5"/>
<circle cx="84.4" cy="572.9" r="2.0" fill="#0ed20e" stroke="#137a13" stroke-width="0.5"/>
<circle cx="84.4" cy="575.3" r="2.0" fill="#0ed20e" stroke="#137a13" stroke-width="0.5"/>
<circle cx="84.4" cy="577.7" r="2.0" fill="#0ed20e" stroke="#137a13" stroke-width="0.5"/>
<circle cx="84.4" cy="580.1" r="2.0" fill="#0ed20e" stroke="#137a13" stroke-width="0.5"/>
<circle cx="134.4" cy="558.5" r="2.0" fill="#0ed20e" stroke="#137a13" stroke-width="0.5"/>
<circle cx="134.4" cy="560.79" r="2.0" fill="#0ed20e" stroke="#137a13" stroke-width="0.5"/>
<circle cx="134.4" cy="563.08" r="2.0" fill="#0ed20e" stroke="#137a13" stroke-width="0.5"/>
<circle cx="134.4" cy="565.37" r="2.0" fill="#0ed20e" stroke="#137a13" stroke-width="0.5"/>
<circle cx="134.4" cy="567.66" r="2.0" fill="#0ed20e" stroke="#137a13" stroke-width="0.5"/>
<circle cx="134.4" cy="569.95" r="2.0" fill="#0ed20e" stroke="#137a13" stroke-width="0.5"/>
<circle cx="134.4" cy="572.24" r="2.0" fill="#0ed20e" stroke="#137a13" stroke-width="0.5"/>
<circle cx="134.4" cy="574.53" r="2.0" fill="#0ed20e" stroke="#137a13" stroke-width="0.5"/>
<circle cx="134.4" cy="576.82" r="2.0" fill="#0ed20e" stroke="#137a13" stroke-width="0.5"/>
<circle cx="134.4" cy="579.11" r="2.0" fill="#0ed20e" stroke="#137a13" stroke-width="0.5"/>
<circle cx="134.4" cy="581.4" r="2.0" fill="#0ed20e" stroke="#137a13" stroke-width="0.5"/>
<circle cx="184.4" cy="556" r="2.0" fill="#0ed20e" stroke="#137a13" stroke-width="0.5"/>
<circle cx="184.4" cy="558.09" r="2.0" fill="#0ed20e" stroke="#137a13" stroke-width="0.5"/>
<circle cx="184.4" cy="560.17" r="2.0" fill="#0ed20e" stroke="#137a13" stroke-width="0.5"/>
<circle cx="184.4" cy="562.26" r="2.0" fill="#0ed20e" stroke="#137a13" stroke-width="0.5"/>
<circle cx="184.4" cy="564.35" r="2.0" fill="#0ed20e" stroke="#137a13" stroke-width="0.5"/>
<circle cx="184.4" cy="566.44" r="2.0" fill="#0ed20e" stroke="#137a13" stroke-width="0.5"/>
<circle cx="184.4" cy="568.52" r="2.0" fill="#0ed20e" stroke="#137a13" stroke-width="0.5"/>
<circle cx="184.4" cy="570.61" r="2.0" fill="#0ed20e" stroke="#137a13" stroke-width="0.5"/>
<circle cx="184.4" cy="572.7" r="2.0" fill="#0ed20e" stroke="#137a13" stroke-width="0.5"/>
<circle cx="234.4" cy="557.9" r="2.0" fill="#0ed20e" stroke="#137a13" stroke-width="0.5"/>
<circle cx="234.4" cy="557.8" r="2.0" fill="#0ed20e" stroke="#137a13" stroke-width="0.5"/>
<circle cx="234.4" cy="561.6" r="2.0" fill="#0ed20e" stroke="#137a13" stroke-width="0.5"/>
<circle cx="234.4" cy="561.5" r="2.0" fill="#0ed20e" stroke="#137a13" stroke-width="0.5"/>
<circle cx="234.4" cy="565.6" r="2.0" fill="#0ed20e" stroke="#137a13" stroke-width="0.5"/>
<circle cx="234.4" cy="565.5" r="2.0" fill="#0ed20e" stroke="#137a13" stroke-width="0.5"/>
<circle cx="334.4" cy="547.3" r="2.0" fill="#0ed20e" stroke="#137a13" stroke-width="0.5"/>
<circle cx="334.4" cy="547.3" r="2.0" fill="#0ed20e" stroke="#137a13" stroke-width="0.5"/>
<rect x="82.8" y="608.15" width="3.2" height="84.7" fill="#0000c8" stroke="#16167a" stroke-width="0.4"/>
<rect x="82.8" y="698.25" width="3.2" height="3.6" fill="#0000c8" stroke="#16167a" stroke-width="0.4"/>
<rect x="132.8" y="586.15" width="3.2" height="3.6" fill="#0000c8" stroke="#16167a" stroke-width="0.4"/>
<rect x="132.8" y="594.05" width="3.2" height="64.3" fill="#0000c8" stroke="#16167a" stroke-width="0.4"/>
<rect x="132.8" y="663.05" width="3.2" height="13.3" fill="#0000c8" stroke="#16167a" stroke-width="0.4"/>
<rect x="132.8" y="682.95" width="3.2" height="3.6" fill="#0000c8" stroke="#16167a" stroke-width="0.4"/>
<rect x="132.8" y="698.25" width="3.2" height="3.6" fill="#0000c8" stroke="#16167a" stroke-width="0.4"/>
<rect x="182.8" y="591.15" width="3.2" height="6.5" fill="#0000c8" stroke="#16167a" stroke-width="0.4"/>
<rect x="182.8" y="600.55" width="3.2" height="7.3" fill="#0000c8" stroke="#16167a" stroke-width="0.4"/>
<rect x="182.8" y="612.15" width="3.2" height="20.7" fill="#0000c8" stroke="#16167a" stroke-width="0.4"/>
<rect x="182.8" y="635.35" width="3.2" height="8.2" fill="#0000c8" stroke="#16167a" stroke-width="0.4"/>
<rect x="182.8" y="655.75" width="3.2" height="3.1" fill="#0000c8" stroke="#16167a" stroke-width="0.4"/>
<rect x="182.8" y="661.35" width="3.2" height="6" fill="#0000c8" stroke="#16167a" stroke-width="0.4"/>
<rect x="182.8" y="671.95" width="3.2" height="5.6" fill="#0000c8" stroke="#16167a" stroke-width="0.4"/>
<rect x="232.8" y="616.55" width="3.2" height="3.5" fill="#0000c8" stroke="#16167a" stroke-width="0.4"/>
<rect x="232.8" y="622.45" width="3.2" height="3.5" fill="#0000c8" stroke="#16167a" stroke-width="0.4"/>
<rect x="232.8" y="637.45" width="3.2" height="3.5" fill="#0000c8" stroke="#16167a" stroke-width="0.4"/>
<rect x="332.8" y="549.25" width="3.2" height="3.5" fill="#0000c8" stroke="#16167a" stroke-width="0.4"/>
<line x1="84.4" y1="570" x2="334.4" y2="547.3" stroke="#1a1a1a" stroke-width="0.9" stroke-dasharray="1.4 0.8"/>
<line x1="84.4" y1="657.3" x2="334.4" y2="551" stroke="#1a1a1a" stroke-width="0.9" stroke-dasharray="1.4 0.8"/>
<text x="29.5" y="728.6" font-size="12.5" text-anchor="end" stroke="#1e1e1e" stroke-width="0.22">-0.4</text>
<text x="29.5" y="703.7" font-size="12.5" text-anchor="end" stroke="#1e1e1e" stroke-width="0.22">-0.2</text>
<text x="29.5" y="679.2" font-size="12.5" text-anchor="end" stroke="#1e1e1e" stroke-width="0.22">0</text>
<text x="29.5" y="653.8" font-size="12.5" text-anchor="end" stroke="#1e1e1e" stroke-width="0.22">0.2</text>
<text x="29.5" y="628.4" font-size="12.5" text-anchor="end" stroke="#1e1e1e" stroke-width="0.22">0.4</text>
<text x="29.5" y="603.1" font-size="12.5" text-anchor="end" stroke="#1e1e1e" stroke-width="0.22">0.6</text>
<text x="29.5" y="577.7" font-size="12.5" text-anchor="end" stroke="#1e1e1e" stroke-width="0.22">0.8</text>
<text x="29.5" y="552.3" font-size="12.5" text-anchor="end" stroke="#1e1e1e" stroke-width="0.22">1</text>
<text x="37.5" y="737" font-size="12.5" text-anchor="middle" stroke="#1e1e1e" stroke-width="0.22">-0.2</text>
<text x="84.2" y="737" font-size="12.5" text-anchor="middle" stroke="#1e1e1e" stroke-width="0.22">0</text>
<text x="135" y="737" font-size="12.5" text-anchor="middle" stroke="#1e1e1e" stroke-width="0.22">0.2</text>
<text x="183.6" y="737" font-size="12.5" text-anchor="middle" stroke="#1e1e1e" stroke-width="0.22">0.4</text>
<text x="236.2" y="737" font-size="12.5" text-anchor="middle" stroke="#1e1e1e" stroke-width="0.22">0.6</text>
<text x="284.9" y="737" font-size="12.5" text-anchor="middle" stroke="#1e1e1e" stroke-width="0.22">0.8</text>
<text x="333.2" y="737" font-size="12.5" text-anchor="middle" stroke="#1e1e1e" stroke-width="0.22">1</text>
<text x="82.4" y="537.8" font-size="15.4" text-anchor="start" stroke="#1e1e1e" stroke-width="0.22" textLength="252" lengthAdjust="spacingAndGlyphs">Intercepts:R2=(0.0,0.816),Q2(0.0,0.127)</text>
<text x="204.2" y="759.2" font-size="18" text-anchor="middle" stroke="#1e1e1e" stroke-width="0.22" textLength="157.5" lengthAdjust="spacingAndGlyphs">Permutation-negative</text>
<line x1="425" y1="696.38" x2="758" y2="696.38" stroke="#f0f0f0" stroke-width="1"/>
<line x1="425" y1="644.62" x2="758" y2="644.62" stroke="#f0f0f0" stroke-width="1"/>
<line x1="425" y1="618.74" x2="758" y2="618.74" stroke="#f0f0f0" stroke-width="1"/>
<line x1="425" y1="592.86" x2="758" y2="592.86" stroke="#f0f0f0" stroke-width="1"/>
<line x1="425" y1="566.98" x2="758" y2="566.98" stroke="#f0f0f0" stroke-width="1"/>
<line x1="425" y1="541.1" x2="758" y2="541.1" stroke="#f0f0f0" stroke-width="1"/>
<line x1="520.46" y1="516.5" x2="520.46" y2="722.4" stroke="#f0f0f0" stroke-width="1"/>
<line x1="568.32" y1="516.5" x2="568.32" y2="722.4" stroke="#f0f0f0" stroke-width="1"/>
<line x1="616.18" y1="516.5" x2="616.18" y2="722.4" stroke="#f0f0f0" stroke-width="1"/>
<line x1="664.04" y1="516.5" x2="664.04" y2="722.4" stroke="#f0f0f0" stroke-width="1"/>
<line x1="711.9" y1="516.5" x2="711.9" y2="722.4" stroke="#f0f0f0" stroke-width="1"/>
<line x1="472.6" y1="516.5" x2="472.6" y2="722.4" stroke="#c8c8c8" stroke-width="1.2"/>
<line x1="425" y1="670.5" x2="758" y2="670.5" stroke="#bdbdbd" stroke-width="1.3"/>
<rect x="426" y="521.5" width="34" height="27" fill="#ffffff"/>
<line x1="425" y1="518.5" x2="425" y2="722.4" stroke="#bcbcbc" stroke-width="1"/>
<line x1="425" y1="722.4" x2="756" y2="722.4" stroke="#bcbcbc" stroke-width="1"/>
<path d="M423 520.5L427 520.5L425 516Z" fill="#777"/>
<path d="M754 720.4L754 724.4L758.5 722.4Z" fill="#777"/>
<line x1="423" y1="722.26" x2="425" y2="722.26" stroke="#b8b8b8" stroke-width="0.7"/>
<line x1="423" y1="709.32" x2="425" y2="709.32" stroke="#b8b8b8" stroke-width="0.7"/>
<line x1="423" y1="696.38" x2="425" y2="696.38" stroke="#b8b8b8" stroke-width="0.7"/>
<line x1="423" y1="683.44" x2="425" y2="683.44" stroke="#b8b8b8" stroke-width="0.7"/>
<line x1="423" y1="670.5" x2="425" y2="670.5" stroke="#b8b8b8" stroke-width="0.7"/>
<line x1="423" y1="657.56" x2="425" y2="657.56" stroke="#b8b8b8" stroke-width="0.7"/>
<line x1="423" y1="644.62" x2="425" y2="644.62" stroke="#b8b8b8" stroke-width="0.7"/>
<line x1="423" y1="631.68" x2="425" y2="631.68" stroke="#b8b8b8" stroke-width="0.7"/>
<line x1="423" y1="618.74" x2="425" y2="618.74" stroke="#b8b8b8" stroke-width="0.7"/>
<line x1="423" y1="605.8" x2="425" y2="605.8" stroke="#b8b8b8" stroke-width="0.7"/>
<line x1="423" y1="592.86" x2="425" y2="592.86" stroke="#b8b8b8" stroke-width="0.7"/>
<line x1="423" y1="579.92" x2="425" y2="579.92" stroke="#b8b8b8" stroke-width="0.7"/>
<line x1="423" y1="566.98" x2="425" y2="566.98" stroke="#b8b8b8" stroke-width="0.7"/>
<line x1="423" y1="554.04" x2="425" y2="554.04" stroke="#b8b8b8" stroke-width="0.7"/>
<line x1="423" y1="541.1" x2="425" y2="541.1" stroke="#b8b8b8" stroke-width="0.7"/>
<line x1="424.74" y1="722.4" x2="424.74" y2="724.4" stroke="#b8b8b8" stroke-width="0.7"/>
<line x1="448.67" y1="722.4" x2="448.67" y2="724.4" stroke="#b8b8b8" stroke-width="0.7"/>
<line x1="472.6" y1="722.4" x2="472.6" y2="724.4" stroke="#b8b8b8" stroke-width="0.7"/>
<line x1="496.53" y1="722.4" x2="496.53" y2="724.4" stroke="#b8b8b8" stroke-width="0.7"/>
<line x1="520.46" y1="722.4" x2="520.46" y2="724.4" stroke="#b8b8b8" stroke-width="0.7"/>
<line x1="544.39" y1="722.4" x2="544.39" y2="724.4" stroke="#b8b8b8" stroke-width="0.7"/>
<line x1="568.32" y1="722.4" x2="568.32" y2="724.4" stroke="#b8b8b8" stroke-width="0.7"/>
<line x1="592.25" y1="722.4" x2="592.25" y2="724.4" stroke="#b8b8b8" stroke-width="0.7"/>
<line x1="616.18" y1="722.4" x2="616.18" y2="724.4" stroke="#b8b8b8" stroke-width="0.7"/>
<line x1="640.11" y1="722.4" x2="640.11" y2="724.4" stroke="#b8b8b8" stroke-width="0.7"/>
<line x1="664.04" y1="722.4" x2="664.04" y2="724.4" stroke="#b8b8b8" stroke-width="0.7"/>
<line x1="687.97" y1="722.4" x2="687.97" y2="724.4" stroke="#b8b8b8" stroke-width="0.7"/>
<line x1="711.9" y1="722.4" x2="711.9" y2="724.4" stroke="#b8b8b8" stroke-width="0.7"/>
<line x1="735.83" y1="722.4" x2="735.83" y2="724.4" stroke="#b8b8b8" stroke-width="0.7"/>
<circle cx="436" cy="533.5" r="2.2" fill="#0ed20e" stroke="#168c16" stroke-width="0.4"/>
<rect x="434" y="545.6" width="4" height="4" fill="#0000c8"/>
<text x="444.4" y="536.8" font-size="10.5" text-anchor="start" stroke="#333" stroke-width="0.22" fill="#333">R2</text>
<text x="444.4" y="550.1" font-size="10.5" text-anchor="start" stroke="#333" stroke-width="0.22" fill="#333">Q2</text>
<circle cx="472.6" cy="546.6" r="2.0" fill="#0ed20e" stroke="#137a13" stroke-width="0.5"/>
<circle cx="472.6" cy="548.79" r="2.0" fill="#0ed20e" stroke="#137a13" stroke-width="0.5"/>
<circle cx="472.6" cy="550.98" r="2.0" fill="#0ed20e" stroke="#137a13" stroke-width="0.5"/>
<circle cx="472.6" cy="553.17" r="2.0" fill="#0ed20e" stroke="#137a13" stroke-width="0.5"/>
<circle cx="472.6" cy="555.36" r="2.0" fill="#0ed20e" stroke="#137a13" stroke-width="0.5"/>
<circle cx="472.6" cy="557.55" r="2.0" fill="#0ed20e" stroke="#137a13" stroke-width="0.5"/>
<circle cx="472.6" cy="559.74" r="2.0" fill="#0ed20e" stroke="#137a13" stroke-width="0.5"/>
<circle cx="472.6" cy="561.93" r="2.0" fill="#0ed20e" stroke="#137a13" stroke-width="0.5"/>
<circle cx="472.6" cy="564.12" r="2.0" fill="#0ed20e" stroke="#137a13" stroke-width="0.5"/>
<circle cx="472.6" cy="566.31" r="2.0" fill="#0ed20e" stroke="#137a13" stroke-width="0.5"/>
<circle cx="472.6" cy="568.5" r="2.0" fill="#0ed20e" stroke="#137a13" stroke-width="0.5"/>
<circle cx="520.46" cy="545" r="2.0" fill="#0ed20e" stroke="#137a13" stroke-width="0.5"/>
<circle cx="520.46" cy="547.32" r="2.0" fill="#0ed20e" stroke="#137a13" stroke-width="0.5"/>
<circle cx="520.46" cy="549.64" r="2.0" fill="#0ed20e" stroke="#137a13" stroke-width="0.5"/>
<circle cx="520.46" cy="551.95" r="2.0" fill="#0ed20e" stroke="#137a13" stroke-width="0.5"/>
<circle cx="520.46" cy="554.27" r="2.0" fill="#0ed20e" stroke="#137a13" stroke-width="0.5"/>
<circle cx="520.46" cy="556.59" r="2.0" fill="#0ed20e" stroke="#137a13" stroke-width="0.5"/>
<circle cx="520.46" cy="558.91" r="2.0" fill="#0ed20e" stroke="#137a13" stroke-width="0.5"/>
<circle cx="520.46" cy="561.23" r="2.0" fill="#0ed20e" stroke="#137a13" stroke-width="0.5"/>
<circle cx="520.46" cy="563.55" r="2.0" fill="#0ed20e" stroke="#137a13" stroke-width="0.5"/>
<circle cx="520.46" cy="565.86" r="2.0" fill="#0ed20e" stroke="#137a13" stroke-width="0.5"/>
<circle cx="520.46" cy="568.18" r="2.0" fill="#0ed20e" stroke="#137a13" stroke-width="0.5"/>
<circle cx="520.46" cy="570.5" r="2.0" fill="#0ed20e" stroke="#137a13" stroke-width="0.5"/>
<circle cx="568.32" cy="549.1" r="2.0" fill="#0ed20e" stroke="#137a13" stroke-width="0.5"/>
<circle cx="568.32" cy="551.26" r="2.0" fill="#0ed20e" stroke="#137a13" stroke-width="0.5"/>
<circle cx="568.32" cy="553.43" r="2.0" fill="#0ed20e" stroke="#137a13" stroke-width="0.5"/>
<circle cx="568.32" cy="555.59" r="2.0" fill="#0ed20e" stroke="#137a13" stroke-width="0.5"/>
<circle cx="568.32" cy="557.75" r="2.0" fill="#0ed20e" stroke="#137a13" stroke-width="0.5"/>
<circle cx="568.32" cy="559.91" r="2.0" fill="#0ed20e" stroke="#137a13" stroke-width="0.5"/>
<circle cx="568.32" cy="562.08" r="2.0" fill="#0ed20e" stroke="#137a13" stroke-width="0.5"/>
<circle cx="568.32" cy="564.24" r="2.0" fill="#0ed20e" stroke="#137a13" stroke-width="0.5"/>
<circle cx="568.32" cy="566.4" r="2.0" fill="#0ed20e" stroke="#137a13" stroke-width="0.5"/>
<circle cx="616.18" cy="550.1" r="2.0" fill="#0ed20e" stroke="#137a13" stroke-width="0.5"/>
<circle cx="616.18" cy="550.3" r="2.0" fill="#0ed20e" stroke="#137a13" stroke-width="0.5"/>
<circle cx="664.04" cy="544.5" r="2.0" fill="#0ed20e" stroke="#137a13" stroke-width="0.5"/>
<circle cx="664.04" cy="544.7" r="2.0" fill="#0ed20e" stroke="#137a13" stroke-width="0.5"/>
<circle cx="664.04" cy="549.6" r="2.0" fill="#0ed20e" stroke="#137a13" stroke-width="0.5"/>
<circle cx="664.04" cy="549.8" r="2.0" fill="#0ed20e" stroke="#137a13" stroke-width="0.5"/>
<circle cx="710.82" cy="542.2" r="2.0" fill="#0ed20e" stroke="#137a13" stroke-width="0.5"/>
<circle cx="710.82" cy="542.4" r="2.0" fill="#0ed20e" stroke="#137a13" stroke-width="0.5"/>
<rect x="471" y="596.25" width="3.2" height="4" fill="#0000c8" stroke="#16167a" stroke-width="0.4"/>
<rect x="471" y="602.55" width="3.2" height="18.1" fill="#0000c8" stroke="#16167a" stroke-width="0.4"/>
<rect x="471" y="626.85" width="3.2" height="9.4" fill="#0000c8" stroke="#16167a" stroke-width="0.4"/>
<rect x="471" y="638.75" width="3.2" height="37.1" fill="#0000c8" stroke="#16167a" stroke-width="0.4"/>
<rect x="471" y="684.15" width="3.2" height="15.5" fill="#0000c8" stroke="#16167a" stroke-width="0.4"/>
<rect x="518.86" y="600.15" width="3.2" height="75.7" fill="#0000c8" stroke="#16167a" stroke-width="0.4"/>
<rect x="518.86" y="681.75" width="3.2" height="4.3" fill="#0000c8" stroke="#16167a" stroke-width="0.4"/>
<rect x="518.86" y="690.95" width="3.2" height="7" fill="#0000c8" stroke="#16167a" stroke-width="0.4"/>
<rect x="566.72" y="586.65" width="3.2" height="3.7" fill="#0000c8" stroke="#16167a" stroke-width="0.4"/>
<rect x="566.72" y="600.15" width="3.2" height="35.8" fill="#0000c8" stroke="#16167a" stroke-width="0.4"/>
<rect x="566.72" y="637.95" width="3.2" height="10.7" fill="#0000c8" stroke="#16167a" stroke-width="0.4"/>
<rect x="566.72" y="652.85" width="3.2" height="3.5" fill="#0000c8" stroke="#16167a" stroke-width="0.4"/>
<rect x="566.72" y="662.05" width="3.2" height="4.5" fill="#0000c8" stroke="#16167a" stroke-width="0.4"/>
<rect x="614.58" y="610.95" width="3.2" height="3.3" fill="#0000c8" stroke="#16167a" stroke-width="0.4"/>
<rect x="662.44" y="576.45" width="3.2" height="3.3" fill="#0000c8" stroke="#16167a" stroke-width="0.4"/>
<rect x="662.44" y="584.65" width="3.2" height="3.3" fill="#0000c8" stroke="#16167a" stroke-width="0.4"/>
<rect x="709.22" y="551.45" width="3.2" height="3.3" fill="#0000c8" stroke="#16167a" stroke-width="0.4"/>
<line x1="472.6" y1="559.6" x2="710.9" y2="542.3" stroke="#1a1a1a" stroke-width="0.9" stroke-dasharray="1.4 0.8"/>
<line x1="472.6" y1="662" x2="710.9" y2="553.2" stroke="#1a1a1a" stroke-width="0.9" stroke-dasharray="1.4 0.8"/>
<text x="420.2" y="726.2" font-size="12.5" text-anchor="end" stroke="#1e1e1e" stroke-width="0.22">-0.4</text>
<text x="420.2" y="699.95" font-size="12.5" text-anchor="end" stroke="#1e1e1e" stroke-width="0.22">-0.2</text>
<text x="420.2" y="675.1" font-size="12.5" text-anchor="end" stroke="#1e1e1e" stroke-width="0.22">0</text>
<text x="420.2" y="649.95" font-size="12.5" text-anchor="end" stroke="#1e1e1e" stroke-width="0.22">0.2</text>
<text x="420.2" y="624.35" font-size="12.5" text-anchor="end" stroke="#1e1e1e" stroke-width="0.22">0.4</text>
<text x="420.2" y="599.7" font-size="12.5" text-anchor="end" stroke="#1e1e1e" stroke-width="0.22">0.6</text>
<text x="420.2" y="574.2" font-size="12.5" text-anchor="end" stroke="#1e1e1e" stroke-width="0.22">0.8</text>
<text x="420.2" y="549.35" font-size="12.5" text-anchor="end" stroke="#1e1e1e" stroke-width="0.22">1</text>
<text x="426.4" y="735.8" font-size="12.5" text-anchor="middle" stroke="#1e1e1e" stroke-width="0.22">-0.2</text>
<text x="473" y="735.8" font-size="12.5" text-anchor="middle" stroke="#1e1e1e" stroke-width="0.22">0</text>
<text x="523.6" y="735.8" font-size="12.5" text-anchor="middle" stroke="#1e1e1e" stroke-width="0.22">0.2</text>
<text x="572.7" y="735.8" font-size="12.5" text-anchor="middle" stroke="#1e1e1e" stroke-width="0.22">0.4</text>
<text x="625.2" y="735.8" font-size="12.5" text-anchor="middle" stroke="#1e1e1e" stroke-width="0.22">0.6</text>
<text x="674.3" y="735.8" font-size="12.5" text-anchor="middle" stroke="#1e1e1e" stroke-width="0.22">0.8</text>
<text x="721.8" y="735.8" font-size="12.5" text-anchor="middle" stroke="#1e1e1e" stroke-width="0.22">1</text>
<text x="472.2" y="533.7" font-size="15.4" text-anchor="start" stroke="#1e1e1e" stroke-width="0.22" textLength="256.9" lengthAdjust="spacingAndGlyphs">Intercepts:R2=(0.0,0.857),Q2(0.0,0.0647)</text>
<text x="585.9" y="759.5" font-size="18" text-anchor="middle" stroke="#1e1e1e" stroke-width="0.22" textLength="154.4" lengthAdjust="spacingAndGlyphs">Permutation-positive</text>
<text x="1" y="15.5" font-size="20.5" text-anchor="start" stroke="#111" stroke-width="0.22" font-weight="bold" fill="#111">A</text>
<text x="1" y="270.7" font-size="20.5" text-anchor="start" stroke="#111" stroke-width="0.22" font-weight="bold" fill="#111">B</text>
<text x="0.3" y="522.7" font-size="23" text-anchor="start" stroke="#111" stroke-width="0.22" font-weight="bold" fill="#111">C</text>
</svg>
</body></html>
